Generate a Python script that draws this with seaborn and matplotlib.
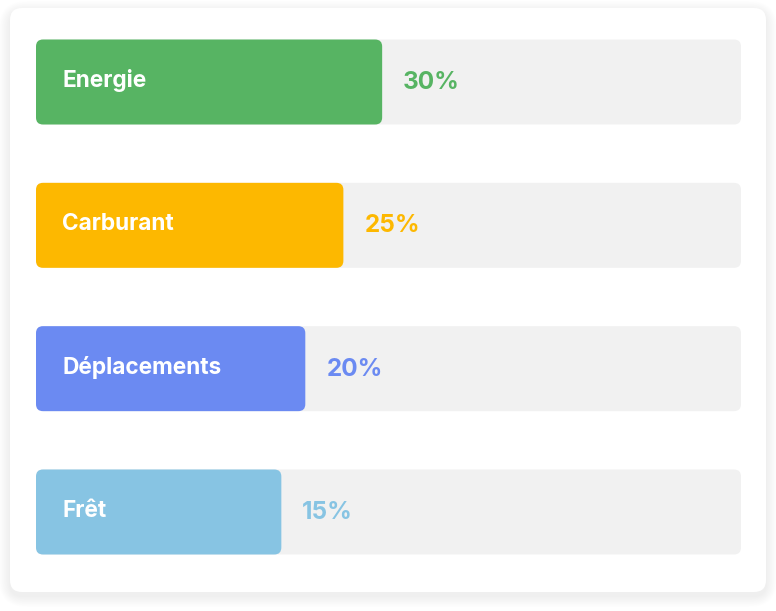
import numpy as np
import pandas as pd
import matplotlib
matplotlib.use("Agg")
import matplotlib.pyplot as plt
import seaborn as sns
from matplotlib.patches import FancyBboxPatch
from matplotlib.transforms import IdentityTransform

# ---- data ----
categories = ["Energie", "Carburant", "Déplacements", "Frêt"]
share_labels = ["30%", "25%", "20%", "15%"]
fill_pct = [49.1, 43.6, 38.2, 34.8]      # filled part of each track, % of track length
track_pct = [100, 100, 100, 100]
colors = ["#57B463", "#FDB800", "#6B8AF2", "#87C4E3"]
track_color = "#F1F1F1"

sns.set_theme(style="white")
plt.rcParams['font.family'] = ['Inter', 'DejaVu Sans']

W, H = 776, 611
DPI = 100
fig = plt.figure(figsize=(W / DPI, H / DPI), dpi=DPI)
fig.patch.set_facecolor("white")

# ---- card with soft shadow (display/pixel coords) ----
cx0, cy0, cx1, cy1 = 10, 19, 766, 603
for k in range(16, 0, -1):
    sh = FancyBboxPatch((cx0 - k * 0.7, cy0 - 4 - k * 0.7), (cx1 - cx0) + k * 1.4, (cy1 - cy0) + k * 1.4,
                        boxstyle=f"round,pad=0,rounding_size={12 + k}",
                        transform=IdentityTransform(), facecolor="black", edgecolor="none",
                        alpha=0.0045, zorder=-3)
    fig.patches.append(sh)
card = FancyBboxPatch((cx0, cy0), cx1 - cx0, cy1 - cy0, boxstyle="round,pad=0,rounding_size=12",
                      transform=IdentityTransform(), facecolor="white", edgecolor="none", zorder=-2)
fig.patches.append(card)

ax = fig.add_axes([0, 0, 1, 1])
ax.patch.set_visible(False)

df = pd.DataFrame({"cat": categories, "fill": fill_pct, "track": track_pct})
BW = 0.593
sns.barplot(data=df, y="cat", x="track", color=track_color, width=BW, ax=ax,
            orient="h", saturation=1)
sns.barplot(data=df, y="cat", x="fill", hue="cat", palette=colors, width=BW, ax=ax,
            orient="h", legend=False, saturation=1)

pxu = 7.05   # pixels per x-unit
x0px = 36
xlim = (-x0px / pxu, (W - x0px) / pxu)
pyu = 143.33
ylim = ((H - 82) / pyu, -82 / pyu)


def set_limits():
    ax.set_xlim(*xlim)
    ax.set_ylim(*ylim)


set_limits()

# replace rectangles with rounded ones
rects = list(ax.patches)
for p in rects:
    bb = p.get_window_extent()
    fc = p.get_facecolor()
    z = p.get_zorder()
    p.remove()
    rp = FancyBboxPatch((bb.x0, bb.y0), bb.width, bb.height,
                        boxstyle="round,pad=0,rounding_size=7",
                        transform=IdentityTransform(), facecolor=fc, edgecolor="none", zorder=z)
    ax.add_patch(rp)
set_limits()

pt = 72.0 / DPI
for i, (cat, lab, f, c) in enumerate(zip(categories, share_labels, fill_pct, colors)):
    ax.annotate(cat, xy=(0, i), xytext=(26 * pt, -5 * pt), textcoords="offset points",
                ha="left", va="baseline", color="white", fontsize=16.3, fontweight="bold")
    ax.annotate(lab, xy=(f, i), xytext=(21 * pt, -7 * pt), textcoords="offset points",
                ha="left", va="baseline", color=c, fontsize=17.5, fontweight="bold")

ax.set_axis_off()
fig.savefig("out.png", dpi=DPI, facecolor="white")
